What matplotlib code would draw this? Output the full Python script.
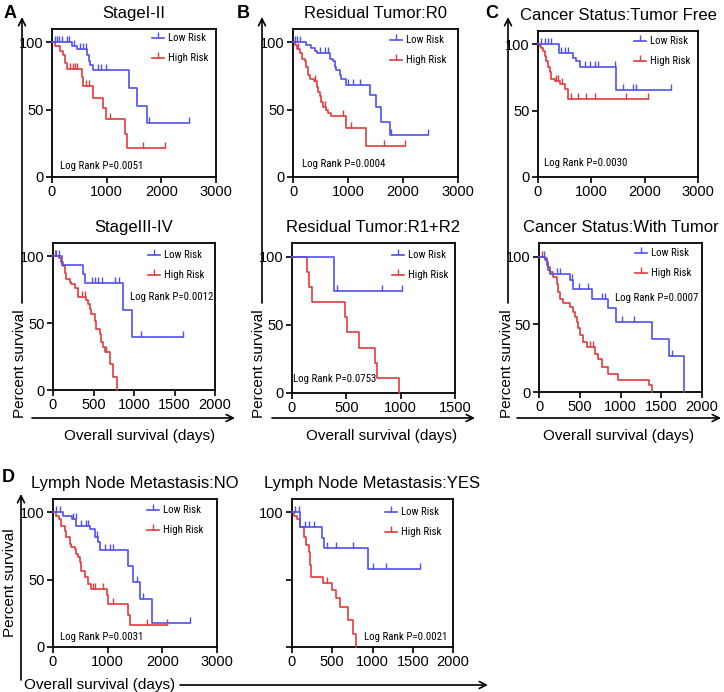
import numpy as np
import matplotlib
matplotlib.use("Agg")
import matplotlib.pyplot as plt
from matplotlib import font_manager
from matplotlib.font_manager import FontProperties
from matplotlib.lines import Line2D
from matplotlib.patches import FancyArrowPatch
from matplotlib.transforms import Affine2D

# ---------------- data ----------------
titles = ["StageI-II", "StageIII-IV", "Residual Tumor:R0", "Residual Tumor:R1+R2",
          "Cancer Status:Tumor Free", "Cancer Status:With Tumor",
          "Lymph Node Metastasis:NO", "Lymph Node Metastasis:YES"]
pvalues = ["0.0051", "0.0012", "0.0004", "0.0753", "0.0030", "0.0007", "0.0031", "0.0021"]
legend_labels = ["Low Risk", "High Risk"]
y_ticks = [0, 50, 100]
y_ticklabels = ["0", "50", "100"]
y_ticklabels_d2 = ["", "", "100"]
x_ticks_3000 = [0, 1000, 2000, 3000]
x_ticks_2000 = [0, 500, 1000, 1500, 2000]
x_ticks_1500 = [0, 500, 1000, 1500]
x_label = "Overall survival (days)"
y_label = "Percent survival"
panel_letters = ["A", "B", "C", "D"]

# A1 StageI-II
a1_low_t = [0, 360, 450, 640, 680, 700, 750, 1410, 1560, 1730, 2500]
a1_low_s = [100, 97.6, 95, 91, 86, 83, 79.5, 66, 53, 40, 40]
a1_low_c = [60, 100, 130, 180, 280, 320, 400, 520, 560, 620, 840, 900, 990, 1780, 2500]
a1_high_t = [0, 60, 150, 210, 240, 270, 540, 570, 750, 930, 980, 1330, 1380, 2060]
a1_high_s = [100, 97, 94, 91, 85, 80, 74, 68, 59, 51, 43, 32, 21.5, 21.5]
a1_high_c = [330, 380, 420, 460, 620, 680, 1060, 1660, 2060]

# A2 StageIII-IV
a2_low_t = [0, 115, 375, 395, 860, 970, 1600]
a2_low_s = [100, 93.3, 86.7, 80, 60, 40, 40]
a2_low_c = [40, 80, 480, 520, 560, 600, 770, 820, 1090, 1600]
a2_high_t = [0, 74, 103, 124, 144, 165, 206, 227, 268, 309, 412, 433, 454, 474, 515, 536,
             577, 598, 619, 639, 700, 742, 784]
a2_high_s = [100, 98.8, 96, 92.6, 87.6, 83, 81, 79, 76, 69.6, 67, 64, 60.5, 57, 52, 45.7,
             42, 35.8, 32, 28.4, 19.8, 9.9, 0]
a2_high_c = [20, 360, 390, 660]

# B1 Residual Tumor R0
b1_low_t = [0, 242, 333, 394, 436, 667, 727, 758, 788, 848, 879, 958, 1394, 1515, 1606, 1758, 2455]
b1_low_s = [100, 98, 96, 94, 92, 88, 86, 82, 79.5, 76, 73, 68.4, 61, 52, 41, 31.4, 31.4]
b1_low_c = [30, 73, 121, 485, 576, 636, 1000, 1091, 1212, 1788, 2455]
b1_high_t = [0, 30, 73, 121, 170, 212, 242, 273, 303, 376, 436, 461, 485, 515, 545, 594, 636,
             697, 958, 1333, 2030]
b1_high_s = [100, 98, 95.5, 92, 88, 86, 82, 76, 73, 71, 67, 63.5, 60, 56, 52, 50, 47.4,
             45, 36.3, 23.4, 23.4]
b1_high_c = [85, 400, 580, 910, 1060, 1660, 2030]

# B2 Residual Tumor R1+R2
b2_low_t = [0, 383, 1010]
b2_low_s = [100, 75, 75]
b2_low_c = [413, 826, 1010]
b2_high_t = [0, 138, 153, 184, 490, 505, 612, 765, 780, 989]
b2_high_s = [100, 88.9, 77.8, 66.7, 55.6, 44.4, 33.3, 22.2, 11.1, 0]
b2_high_c = []

# C1 Cancer Status Tumor Free
c1_low_t = [0, 388, 656, 719, 781, 1456, 2500]
c1_low_s = [100, 93.8, 90, 87.6, 82.6, 65.7, 65.7]
c1_low_c = [62, 125, 187, 250, 438, 500, 562, 875, 969, 1062, 1125, 1438, 1594, 1781, 1844, 2500]
c1_high_t = [0, 31, 62, 94, 125, 156, 187, 219, 250, 312, 406, 500, 562, 2062]
c1_high_s = [100, 98.8, 97.5, 95, 91, 87.6, 82.6, 79, 74, 72.6, 70, 66.4, 58.5, 58.5]
c1_high_c = [340, 370, 450, 625, 750, 894, 1062, 1656, 2062]

# C2 Cancer Status With Tumor
c2_low_t = [0, 74, 94, 115, 135, 381, 422, 648, 852, 947, 1385, 1590, 1775]
c2_low_s = [100, 97.5, 94, 90, 87, 82.7, 75.8, 68.6, 61.7, 51.4, 39, 26.4, 0]
c2_low_c = [66, 217, 258, 400, 496, 607, 770, 811, 1016, 1160, 1631]
c2_high_t = [0, 74, 94, 115, 135, 176, 217, 238, 258, 299, 381, 422, 443, 463, 484, 504, 545,
             586, 689, 730, 770, 852, 975, 1344, 1385]
c2_high_s = [100, 99, 96, 92.6, 88.9, 85, 80, 74, 69, 65.4, 63, 59, 55.6, 51.9, 47, 42, 37,
             33.3, 28.4, 24.7, 18.5, 13.6, 8.6, 4.9, 0]
c2_high_c = [40, 620, 660]

# D1 Lymph Node Metastasis NO
d1_low_t = [0, 184, 355, 429, 674, 765, 827, 857, 1378, 1470, 1592, 1806, 2510]
d1_low_s = [100, 97.5, 95, 90, 87.6, 81.5, 77.8, 72, 60.5, 48, 35.8, 17.8, 17.8]
d1_low_c = [61, 122, 367, 416, 520, 612, 643, 796, 949, 1041, 1102, 1531, 1653, 2510]
d1_high_t = [0, 61, 110, 153, 214, 245, 306, 337, 398, 429, 459, 490, 520, 582, 643, 704,
             980, 1010, 1378, 1408, 2082]
d1_high_s = [100, 97.5, 95, 90, 86.4, 81.5, 76.5, 74, 72.8, 69, 66.7, 63, 56.8, 51.9, 46.9,
             43.2, 38.3, 32, 23.5, 16, 16]
d1_high_c = [735, 765, 918, 1102, 1714, 2082]

# D2 Lymph Node Metastasis YES
d2_low_t = [0, 95, 105, 371, 392, 948, 1588]
d2_low_s = [100, 94.8, 89.5, 80.7, 73.3, 58, 58]
d2_low_c = [41, 82, 165, 206, 268, 433, 548, 763, 1002, 1167, 1588]
d2_high_t = [0, 21, 62, 103, 144, 177, 206, 227, 239, 384, 495, 548, 598, 693, 763, 796]
d2_high_s = [100, 97, 95, 89.5, 82, 75.8, 70.9, 61, 52.3, 47.4, 42.5, 36.3, 30, 19.8, 9.9, 0]
d2_high_c = [433]

# ---------------- styling ----------------
W, H = 724, 692
plt.rcParams['font.family'] = ['Liberation Sans', 'DejaVu Sans']


def pick_condensed():
    """Find an installed condensed/narrow sans face, if any."""
    order = ['liberation', 'arial', 'roboto', 'open sans', 'noto sans', 'lato', 'inter', 'dejavu']
    best = None
    for f in font_manager.fontManager.ttflist:
        n = f.name.lower()
        st = str(f.stretch).lower()
        if f.style != 'normal':
            continue
        if f.weight not in (400, 'normal', 'regular', 'book'):
            continue
        if 'mono' in n or ('serif' in n and 'sans' not in n):
            continue
        if 'cjk' in n:
            continue
        narrow = ('narrow' in n or 'condensed' in n or st in ('condensed', 'semi-condensed'))
        if not narrow or 'extra' in n or 'ultra' in n or 'extra' in st or 'ultra' in st:
            continue
        rank = next((i for i, k in enumerate(order) if k in n), len(order))
        if best is None or rank < best[0]:
            best = (rank, f.fname)
    if best is None:
        return FontProperties(family='Liberation Sans')
    return FontProperties(fname=best[1])


NARROW_FP = pick_condensed()

BLUE = '#5050f0'
RED = '#e23b3b'

fig = plt.figure(figsize=(W / 100, H / 100), dpi=100)
PIX = Affine2D().scale(1 / W, -1 / H).translate(0, 1) + fig.transFigure
fit_texts = []  # (text, target width in px)


def make_ax(l, t, r, b):
    return fig.add_axes([l / W, 1 - b / H, (r - l) / W, (b - t) / H])


def km(ax, t, s, c, color):
    t = np.asarray(t, float)
    s = np.asarray(s, float)
    ax.step(t, s, where='post', color=color, lw=1.2, clip_on=False, zorder=3)
    if len(c):
        c = np.asarray(c, float)
        idx = np.searchsorted(t, c, side='right') - 1
        ax.plot(c, s[idx], ls='none', marker=2, ms=4, mew=1.0, color=color,
                clip_on=False, zorder=3)


def legend(lx, ly):
    for i, (lab, col) in enumerate(zip(legend_labels, [BLUE, RED])):
        y = ly + 20 * i
        fig.add_artist(Line2D([lx, lx + 6, lx + 12], [y, y, y], transform=PIX, color=col,
                              lw=1.2, marker=2, ms=4, mew=1.0, markevery=[1]))
        t = fig.text(lx + 16, y, lab, transform=PIX, ha='left', va='center',
                     fontproperties=NARROW_FP.copy())
        fit_texts.append((t, 38 if i == 0 else 40))


def panel(box, xmax, xticks, title, low, high, p, ppos, pha, lpos, ytl):
    ax = make_ax(*box)
    km(ax, *high, RED)
    km(ax, *low, BLUE)
    ax.set_xlim(0, xmax)
    ax.set_ylim(0, 110)
    ax.set_xticks(xticks)
    ax.set_yticks(y_ticks)
    ax.set_yticklabels(ytl)
    for sp in ax.spines.values():
        sp.set_linewidth(1.3)
    ax.tick_params(direction='out', length=4, width=1.2, labelsize=10.5, pad=2)
    ax.set_title(title, fontsize=12, pad=8)
    t = fig.text(ppos[0], ppos[1], "Log Rank P=" + p, transform=PIX, ha=pha, va='center',
                 fontproperties=NARROW_FP.copy())
    fit_texts.append((t, 83))
    legend(*lpos)
    return ax


panel((52, 29, 216, 177), 3000, x_ticks_3000, titles[0],
      (a1_low_t, a1_low_s, a1_low_c), (a1_high_t, a1_high_s, a1_high_c),
      pvalues[0], (60, 166), 'left', (152, 38), y_ticklabels)
panel((53, 243, 215, 390), 2000, x_ticks_2000, titles[1],
      (a2_low_t, a2_low_s, a2_low_c), (a2_high_t, a2_high_s, a2_high_c),
      pvalues[1], (213, 297), 'right', (148, 255), y_ticklabels)
panel((293, 29, 458, 177), 3000, x_ticks_3000, titles[2],
      (b1_low_t, b1_low_s, b1_low_c), (b1_high_t, b1_high_s, b1_high_c),
      pvalues[2], (302, 164), 'left', (390, 40), y_ticklabels)
panel((292, 243, 455, 393), 1500, x_ticks_1500, titles[3],
      (b2_low_t, b2_low_s, b2_low_c), (b2_high_t, b2_high_s, b2_high_c),
      pvalues[3], (293, 379), 'left', (392, 255), y_ticklabels)
panel((538, 31, 698, 177), 3000, x_ticks_3000, titles[4],
      (c1_low_t, c1_low_s, c1_low_c), (c1_high_t, c1_high_s, c1_high_c),
      pvalues[4], (544, 163), 'left', (634, 41), y_ticklabels)
panel((539, 243, 702, 392), 2000, x_ticks_2000, titles[5],
      (c2_low_t, c2_low_s, c2_low_c), (c2_high_t, c2_high_s, c2_high_c),
      pvalues[5], (698, 298), 'right', (635, 253), y_ticklabels)
panel((53, 499, 217, 647), 3000, x_ticks_3000, titles[6],
      (d1_low_t, d1_low_s, d1_low_c), (d1_high_t, d1_high_s, d1_high_c),
      pvalues[6], (60, 637), 'left', (147, 510), y_ticklabels)
panel((292, 499, 453, 647), 2000, x_ticks_2000, titles[7],
      (d2_low_t, d2_low_s, d2_low_c), (d2_high_t, d2_high_s, d2_high_c),
      pvalues[7], (447, 637), 'right', (385, 512), y_ticklabels_d2)


def arrow(p0, p1):
    fig.add_artist(FancyArrowPatch(p0, p1, transform=PIX,
                                   arrowstyle='->,head_length=0.5,head_width=0.25',
                                   mutation_scale=10, lw=1.2, color='black',
                                   shrinkA=0, shrinkB=0))


# outer axis arrows and labels for A, B, C
for vx, lx, hx0, hx1, cx in [(22, 20, 32, 235, 140), (262, 259, 272, 475, 382),
                              (508, 507, 517, 721, 619)]:
    arrow((vx, 303), (vx, 17))
    fig.text(lx, 364, y_label, transform=PIX, rotation=90, ha='center', va='center', fontsize=11)
    arrow((hx0, 418), (hx1, 418))
    fig.text(cx, 436, x_label, transform=PIX, ha='center', va='center', fontsize=11)

# panel D
arrow((21, 680), (21, 494))
fig.text(10, 583, y_label, transform=PIX, rotation=90, ha='center', va='center', fontsize=11)
fig.text(100, 685, x_label, transform=PIX, ha='center', va='center', fontsize=11)
arrow((180, 685), (488, 685))

for letter, (x, y) in zip(panel_letters, [(10, 13), (243, 13), (492, 13), (8, 477)]):
    fig.text(x, y, letter, transform=PIX, ha='center', va='center', fontsize=13,
             fontweight='bold')

# size the small condensed labels so their widths match the reference
renderer = fig.canvas.get_renderer()
for t, target in fit_texts:
    t.set_fontsize(10.0)
    w = t.get_window_extent(renderer).width
    if w > 0:
        t.set_fontsize(min(10.0 * target / w, 9.5))

fig.savefig("out.png", dpi=100)
